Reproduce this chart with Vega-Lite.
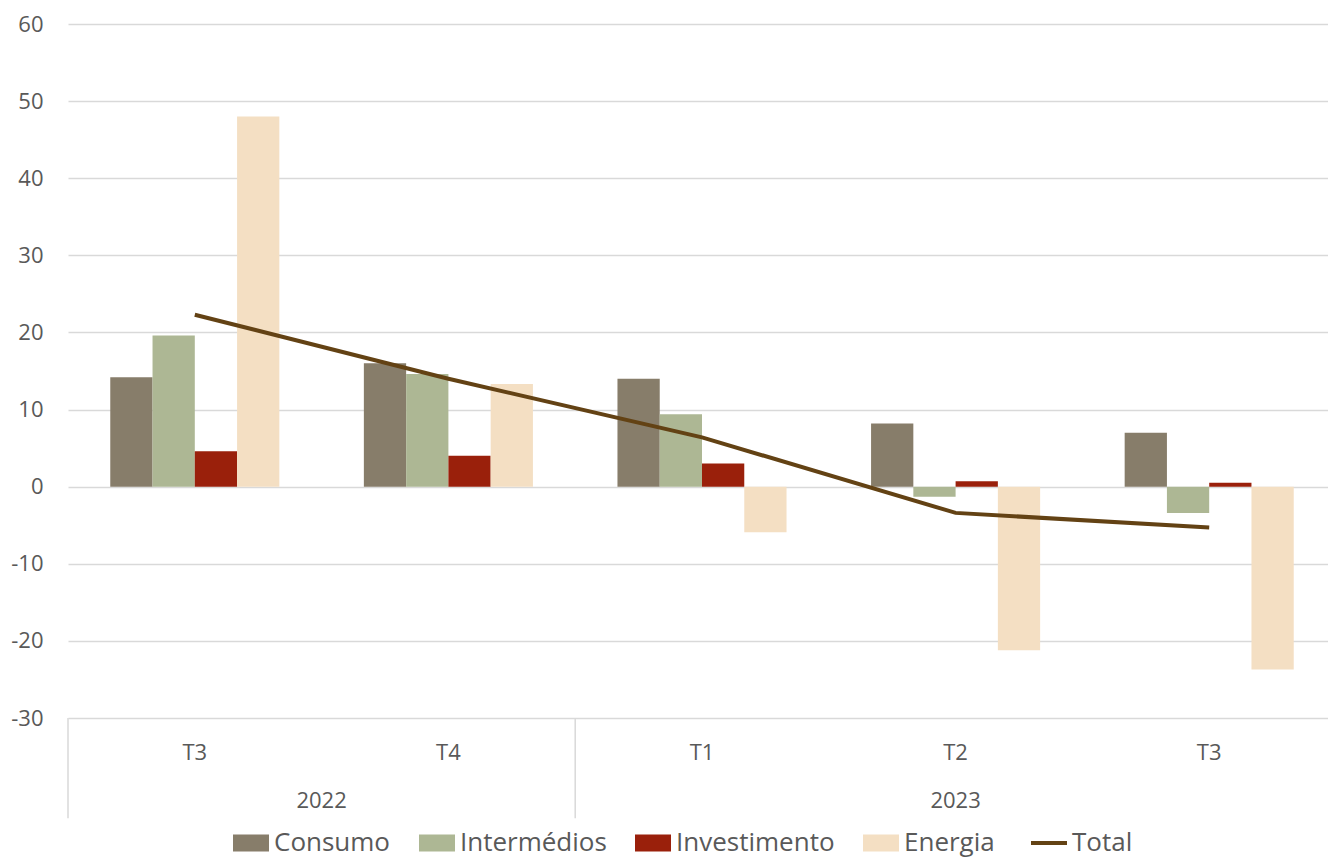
{
  "$schema": "https://vega.github.io/schema/vega-lite/v6.json",
  "width": 1268,
  "height": 694,
  "autosize": {"type": "none"},
  "padding": {"left": 68, "top": 24, "right": -8, "bottom": 145},
  "background": "white",
  "datasets": {
    "bars": [
      {"q": "2022 T3", "serie": "Consumo", "v": 14.2},
      {"q": "2022 T3", "serie": "Intermédios", "v": 19.6},
      {"q": "2022 T3", "serie": "Investimento", "v": 4.6},
      {"q": "2022 T3", "serie": "Energia", "v": 48.0},
      {"q": "2022 T4", "serie": "Consumo", "v": 16.0},
      {"q": "2022 T4", "serie": "Intermédios", "v": 14.6},
      {"q": "2022 T4", "serie": "Investimento", "v": 4.0},
      {"q": "2022 T4", "serie": "Energia", "v": 13.3},
      {"q": "2023 T1", "serie": "Consumo", "v": 14.0},
      {"q": "2023 T1", "serie": "Intermédios", "v": 9.4},
      {"q": "2023 T1", "serie": "Investimento", "v": 3.0},
      {"q": "2023 T1", "serie": "Energia", "v": -5.9},
      {"q": "2023 T2", "serie": "Consumo", "v": 8.2},
      {"q": "2023 T2", "serie": "Intermédios", "v": -1.3},
      {"q": "2023 T2", "serie": "Investimento", "v": 0.7},
      {"q": "2023 T2", "serie": "Energia", "v": -21.2},
      {"q": "2023 T3", "serie": "Consumo", "v": 7.0},
      {"q": "2023 T3", "serie": "Intermédios", "v": -3.4},
      {"q": "2023 T3", "serie": "Investimento", "v": 0.5},
      {"q": "2023 T3", "serie": "Energia", "v": -23.7}
    ],
    "total": [
      {"q": "2022 T3", "total": 22.3},
      {"q": "2022 T4", "total": 14.0},
      {"q": "2023 T1", "total": 6.4},
      {"q": "2023 T2", "total": -3.4},
      {"q": "2023 T3", "total": -5.3}
    ],
    "separators": [
      {"q": "2022 T3"},
      {"q": "2023 T1"}
    ]
  },
  "layer": [
    {
      "data": {"name": "bars"},
      "mark": {"type": "bar"},
      "encoding": {
        "x": {
          "field": "q", "type": "nominal",
          "scale": {"domain": ["2022 T3", "2022 T4", "2023 T1", "2023 T2", "2023 T3"], "paddingInner": 0, "paddingOuter": 0},
          "axis": {
            "title": null, "orient": "bottom", "domain": false, "ticks": false, "grid": false,
            "labelExpr": "split(datum.label, ' ')[1]",
            "labelPadding": 34, "labelBaseline": "middle", "labelAngle": 0,
            "labelFont": "Open Sans", "labelFontSize": 22, "labelColor": "#595959"
          }
        },
        "xOffset": {
          "field": "serie", "type": "nominal",
          "scale": {"domain": ["Consumo", "Intermédios", "Investimento", "Energia"], "paddingInner": 0, "paddingOuter": 1.07}
        },
        "y": {
          "field": "v", "type": "quantitative",
          "scale": {"domain": [-30, 60], "nice": false},
          "axis": {
            "title": null, "values": [-30, -20, -10, 0, 10, 20, 30, 40, 50, 60],
            "labelExpr": "toString(datum.value)",
            "domain": false, "ticks": false, "grid": true, "gridColor": "#d9d9d9", "gridWidth": 1.5,
            "labelPadding": 25, "labelFont": "Open Sans", "labelFontSize": 22, "labelColor": "#595959"
          }
        },
        "color": {
          "field": "serie", "type": "nominal",
          "scale": {
            "domain": ["Consumo", "Intermédios", "Investimento", "Energia", "Total"],
            "range": ["#877d6a", "#adb794", "#9a200b", "#f4dfc3", "#634214"]
          },
          "legend": {
            "title": null, "orient": "none", "direction": "horizontal",
            "legendX": 170, "legendY": 806, "padding": 0,
            "labelFont": "Open Sans", "labelFontSize": 26, "labelColor": "#595959",
            "labelOffset": 10, "columnPadding": 28, "symbolSize": 1296,
            "encode": {
              "symbols": {
                "update": {
                  "shape": {"signal": "datum.value === 'Total' ? 'M-1,0H1' : 'M-1,-0.47H1V0.47H-1Z'"},
                  "fill": {"signal": "datum.value === 'Total' ? 'transparent' : scale('color', datum.value)"},
                  "stroke": {"signal": "datum.value === 'Total' ? scale('color', datum.value) : 'transparent'"},
                  "strokeWidth": {"signal": "datum.value === 'Total' ? 4 : 0"},
                  "opacity": {"value": 1},
                  "fillOpacity": {"value": 1},
                  "strokeOpacity": {"value": 1}
                }
              }
            }
          }
        }
      }
    },
    {
      "data": {"name": "total"},
      "mark": {"type": "line", "strokeWidth": 4},
      "encoding": {
        "x": {"field": "q", "type": "nominal"},
        "y": {"field": "total", "type": "quantitative", "scale": {"domain": [-30, 60], "nice": false}},
        "color": {"datum": "Total", "type": "nominal"}
      }
    },
    {
      "data": {"name": "separators"},
      "mark": {"type": "rule", "color": "#d9d9d9", "strokeWidth": 1.5, "clip": false},
      "encoding": {
        "x": {"field": "q", "type": "nominal", "bandPosition": 0},
        "y": {"datum": -30, "type": "quantitative", "scale": {"domain": [-30, 60], "nice": false}},
        "y2": {"datum": -43}
      }
    },
    {
      "data": {"values": [{"q": "2022 T4", "ano": "2022"}]},
      "mark": {"type": "text", "font": "Open Sans", "fontSize": 22, "color": "#595959", "baseline": "middle", "align": "center", "clip": false},
      "encoding": {
        "x": {"field": "q", "type": "nominal", "bandPosition": 0},
        "y": {"datum": -40.8, "type": "quantitative", "scale": {"domain": [-30, 60], "nice": false}},
        "text": {"field": "ano"}
      }
    },
    {
      "data": {"values": [{"q": "2023 T2", "ano": "2023"}]},
      "mark": {"type": "text", "font": "Open Sans", "fontSize": 22, "color": "#595959", "baseline": "middle", "align": "center", "clip": false},
      "encoding": {
        "x": {"field": "q", "type": "nominal", "bandPosition": 0.5},
        "y": {"datum": -40.8, "type": "quantitative", "scale": {"domain": [-30, 60], "nice": false}},
        "text": {"field": "ano"}
      }
    }
  ],
  "config": {
    "view": {"stroke": null},
    "font": "Open Sans"
  }
}
